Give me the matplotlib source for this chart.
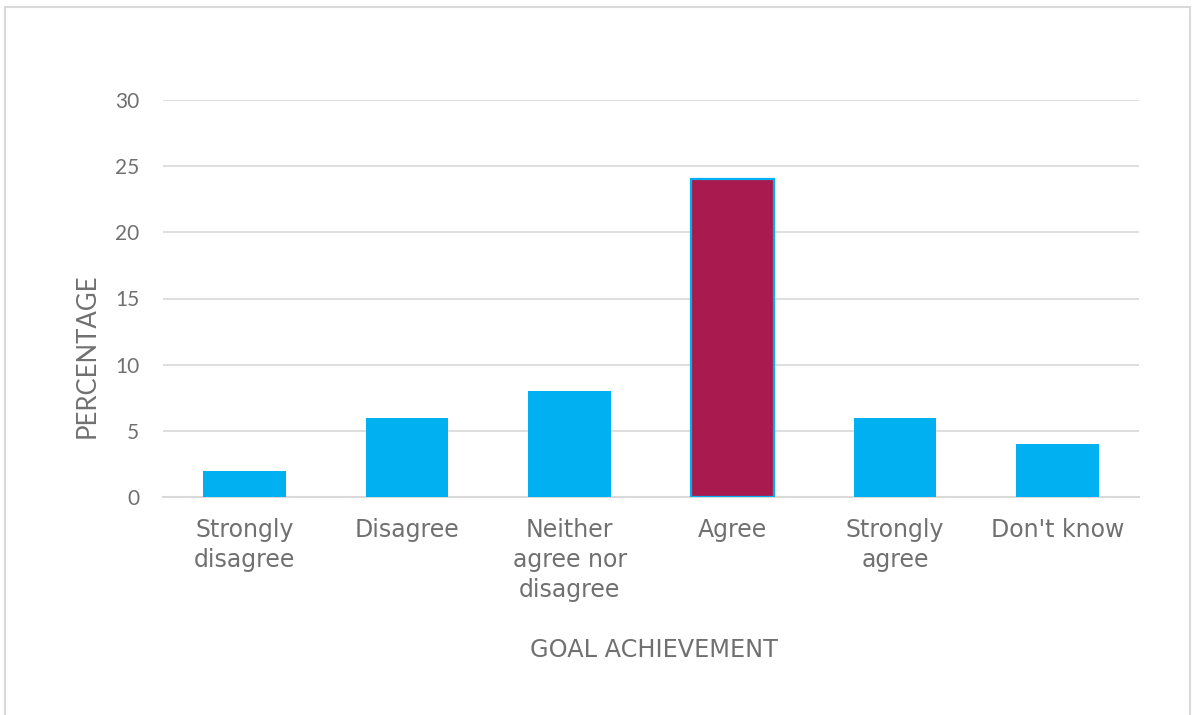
import matplotlib.pyplot as plt
import matplotlib.patches as patches

# survey responses: goal achievement
categories = ["Strongly\ndisagree", "Disagree", "Neither\nagree nor\ndisagree",
              "Agree", "Strongly\nagree", "Don't know"]
percent = [2, 6, 8, 24, 6, 4]
yticks = [0, 5, 10, 15, 20, 25, 30]

blue = "#00B0F0"
crimson = "#A91B4F"
grey_txt = "#707070"
grid_col = "#D9D9D9"

fig = plt.figure(figsize=(11.93, 7.15), dpi=100)
ax = fig.add_axes([163/1193, 218/715, (1139-163)/1193, (497-100)/715])

x = range(len(categories))
bars = ax.bar(x, percent, width=0.51, color=blue, zorder=3)
# highlight the biggest answer
bars[3].set_facecolor(crimson)
bars[3].set_edgecolor(blue)
bars[3].set_linewidth(1.6)

ax.set_ylim(0, 30)
ax.set_xlim(-0.5, len(categories) - 0.5)
ax.set_yticks(yticks)
ax.set_yticklabels([str(v) for v in yticks], fontfamily="Lato", fontsize=15, color=grey_txt)
ax.set_xticks(list(x))
ax.set_xticklabels(categories, fontfamily="DejaVu Sans", fontsize=17, color=grey_txt,
                   linespacing=1.32, va="top")
ax.tick_params(axis="both", length=0)
ax.tick_params(axis="x", pad=15)
ax.tick_params(axis="y", pad=17)

ax.grid(axis="y", color=grid_col, linewidth=1.2, zorder=0)
for s in ["top", "right", "left"]:
    ax.spines[s].set_visible(False)
ax.spines["bottom"].set_color(grid_col)
ax.spines["bottom"].set_linewidth(1.5)

fig.text(87/1193, 1 - 356/715, "PERCENTAGE", fontfamily="Lato", fontsize=18.5,
         color=grey_txt, rotation=90, ha="center", va="center")
fig.text(654/1193, 1 - 650/715, "GOAL ACHIEVEMENT", fontfamily="DejaVu Sans",
         fontsize=17.3, color=grey_txt, ha="center", va="center")

# outer chart frame
frame = patches.Rectangle((5/1193, -0.05), 1185/1193, 1.05 - 7/715, transform=fig.transFigure,
                          fill=False, edgecolor=grid_col, linewidth=1.5)
fig.patches.append(frame)

fig.savefig("out.png", dpi=100)
